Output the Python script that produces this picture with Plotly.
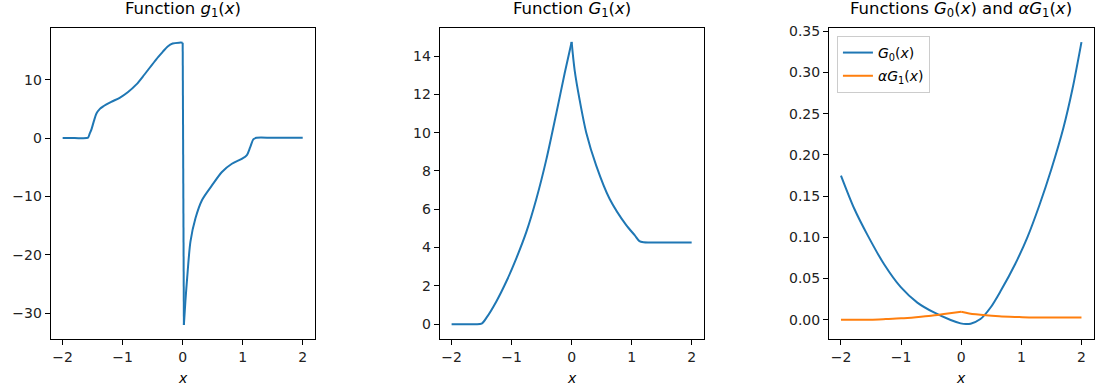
import plotly.graph_objects as go

# ---------------- data ----------------
g1_x = [-2.0, -1.8, -1.6, -1.575, -1.548, -1.52, -1.48, -1.437, -1.38, -1.33, -1.19,
        -1.05, -0.91, -0.775, -0.64, -0.44, -0.33, -0.25, -0.167, -0.06, 0.0,
        0.02, 0.045, 0.075, 0.13, 0.214, 0.323, 0.49, 0.654, 0.82, 0.985, 1.07,
        1.124, 1.18, 1.23, 1.5, 2.0]
g1_y = [0, 0, 0, 0.1, 0.8, 1.5, 2.9, 4.2, 5.0, 5.4, 6.2,
        6.9, 7.9, 9.15, 10.85, 13.5, 14.8, 15.7, 16.2, 16.35, 16.35,
        -32.0, -28.0, -23.9, -17.7, -13.7, -10.6, -8.07, -5.8, -4.4, -3.55, -2.9,
        -1.6, -0.17, 0.05, 0.05, 0.05]
g1_jump = 20          # index of the last point before the drop at x = 0

G1_x = [-2.0, -1.8, -1.6, -1.5, -1.418, -1.252, -1.086, -0.92, -0.753, -0.587, -0.42,
        -0.254, -0.116, 0.0, 0.05, 0.133, 0.244, 0.41, 0.632, 0.91, 1.05, 1.13,
        1.2, 1.3, 1.6, 2.0]
G1_y = [0, 0, 0, 0.03, 0.34, 1.2, 2.24, 3.45, 4.83, 6.55, 8.62,
        11.03, 13.1, 14.74, 13.27, 11.72, 10.0, 8.28, 6.55, 5.17, 4.65, 4.34,
        4.28, 4.27, 4.27, 4.27]
G1_peak = 13

G0_x = [-2.0, -1.78, -1.56, -1.28, -1.005, -0.73, -0.453, -0.176, -0.01, 0.08, 0.156,
        0.32, 0.488, 0.653, 0.9, 1.1, 1.3, 1.5, 1.7, 1.85, 2.0]
G0_y = [0.175, 0.135, 0.103, 0.067, 0.0395, 0.0208, 0.0088, -0.0004, -0.0044, -0.0053, -0.0048,
        0.0008, 0.0148, 0.0345, 0.068, 0.100, 0.139, 0.183, 0.233, 0.280, 0.337]

aG1_x = [-2.0, -1.6, -1.5, -1.252, -1.0, -0.753, -0.5, -0.254, 0.0, 0.133, 0.41,
         0.632, 0.91, 1.13, 1.6, 2.0]
aG1_y = [0, 0, 0.00002, 0.00078, 0.0017, 0.0031, 0.0048, 0.0072, 0.0096, 0.0076, 0.0054,
         0.0043, 0.0034, 0.0028, 0.0028, 0.0028]
aG1_peak = 8

x_ticks = [-2, -1, 0, 1, 2]
titles = ["Function <i>g</i><sub>1</sub>(<i>x</i>)",
          "Function <i>G</i><sub>1</sub>(<i>x</i>)",
          "Functions <i>G</i><sub>0</sub>(<i>x</i>) and <i>α</i><i>G</i><sub>1</sub>(<i>x</i>)"]
legend_names = ["<i>G</i><sub>0</sub>(<i>x</i>)", "<i>α</i><i>G</i><sub>1</sub>(<i>x</i>)"]

# ---------------- figure ----------------
W, H = 1095, 387
BLUE, ORANGE = "#1f77b4", "#ff7f0e"
FONT = "DejaVu Sans"

fig = go.Figure()


def add_piece(xs, ys, a, b, color, ax, shape="spline", name=None, legend=False, group=None):
    fig.add_trace(go.Scatter(
        x=xs[a:b + 1], y=ys[a:b + 1], mode="lines",
        line=dict(color=color, width=2, shape=shape, smoothing=0.8 if shape == "spline" else None),
        xaxis="x" + ax, yaxis="y" + ax, name=name, showlegend=legend, legendgroup=group))


# panel 1: g1 (smooth pieces joined by the vertical drop at x = 0)
add_piece(g1_x, g1_y, 0, g1_jump, BLUE, "")
add_piece(g1_x, g1_y, g1_jump, g1_jump + 1, BLUE, "", shape="linear")
add_piece(g1_x, g1_y, g1_jump + 1, len(g1_x) - 1, BLUE, "")
# panel 2: G1 (cusp at the peak)
add_piece(G1_x, G1_y, 0, G1_peak, BLUE, "2")
add_piece(G1_x, G1_y, G1_peak, len(G1_x) - 1, BLUE, "2")
# panel 3
add_piece(G0_x, G0_y, 0, len(G0_x) - 1, BLUE, "3", name=legend_names[0], legend=True, group="g0")
add_piece(aG1_x, aG1_y, 0, aG1_peak, ORANGE, "3", name=legend_names[1], legend=True, group="ag1")
add_piece(aG1_x, aG1_y, aG1_peak, len(aG1_x) - 1, ORANGE, "3", name=legend_names[1], group="ag1")

# axes boxes in pixels
boxes = [(50.7, 315.0), (440.0, 704.3), (829.7, 1094.5)]
top_px, bot_px = 24.0, 339.0
ydom = [(H - bot_px) / H, (H - top_px) / H]

common = dict(showline=True, linecolor="black", linewidth=1, mirror=True,
              ticks="outside", ticklen=5, tickwidth=1, tickcolor="black",
              showgrid=False, zeroline=False,
              tickfont=dict(family=FONT, size=14, color="#222222"))

yranges = [[-34.5, 18.9], [-0.8, 15.48], [-0.024, 0.3544]]
ytick_cfg = [dict(tickvals=[-30, -20, -10, 0, 10]),
             dict(tickvals=[0, 2, 4, 6, 8, 10, 12, 14]),
             dict(tickvals=[0, 0.05, 0.1, 0.15, 0.2, 0.25, 0.3, 0.35], tickformat=".2f")]

for i, (l, r) in enumerate(boxes):
    sx = "" if i == 0 else str(i + 1)
    fig.layout["xaxis" + sx] = dict(domain=[l / W, min(r / W, 1.0)], range=[-2.2, 2.2],
                                    tickvals=x_ticks, anchor="y" + sx, **common)
    fig.layout["yaxis" + sx] = dict(domain=ydom, range=yranges[i], anchor="x" + sx,
                                    **ytick_cfg[i], **common)
    cx = (l + r) / 2 / W
    fig.add_annotation(text=titles[i], x=cx, y=(H - 18.5) / H, xref="paper", yref="paper",
                       xanchor="center", yanchor="bottom", showarrow=False,
                       font=dict(family=FONT, size=16.5, color="black"))
    fig.add_annotation(text="<i>x</i>", x=cx, y=(H - 367.5) / H, xref="paper", yref="paper",
                       xanchor="center", yanchor="top", showarrow=False,
                       font=dict(family=FONT, size=14, color="black"))

fig.update_layout(
    width=W, height=H, margin=dict(l=0, r=0, t=0, b=0),
    paper_bgcolor="white", plot_bgcolor="white",
    legend=dict(x=837.7 / W, y=(H - 32.3) / H, xanchor="left", yanchor="top",
                bgcolor="rgba(255,255,255,0.8)", bordercolor="#cccccc", borderwidth=1,
                font=dict(family=FONT, size=14, color="black"), tracegroupgap=2),
)

fig.write_html("out.html")
